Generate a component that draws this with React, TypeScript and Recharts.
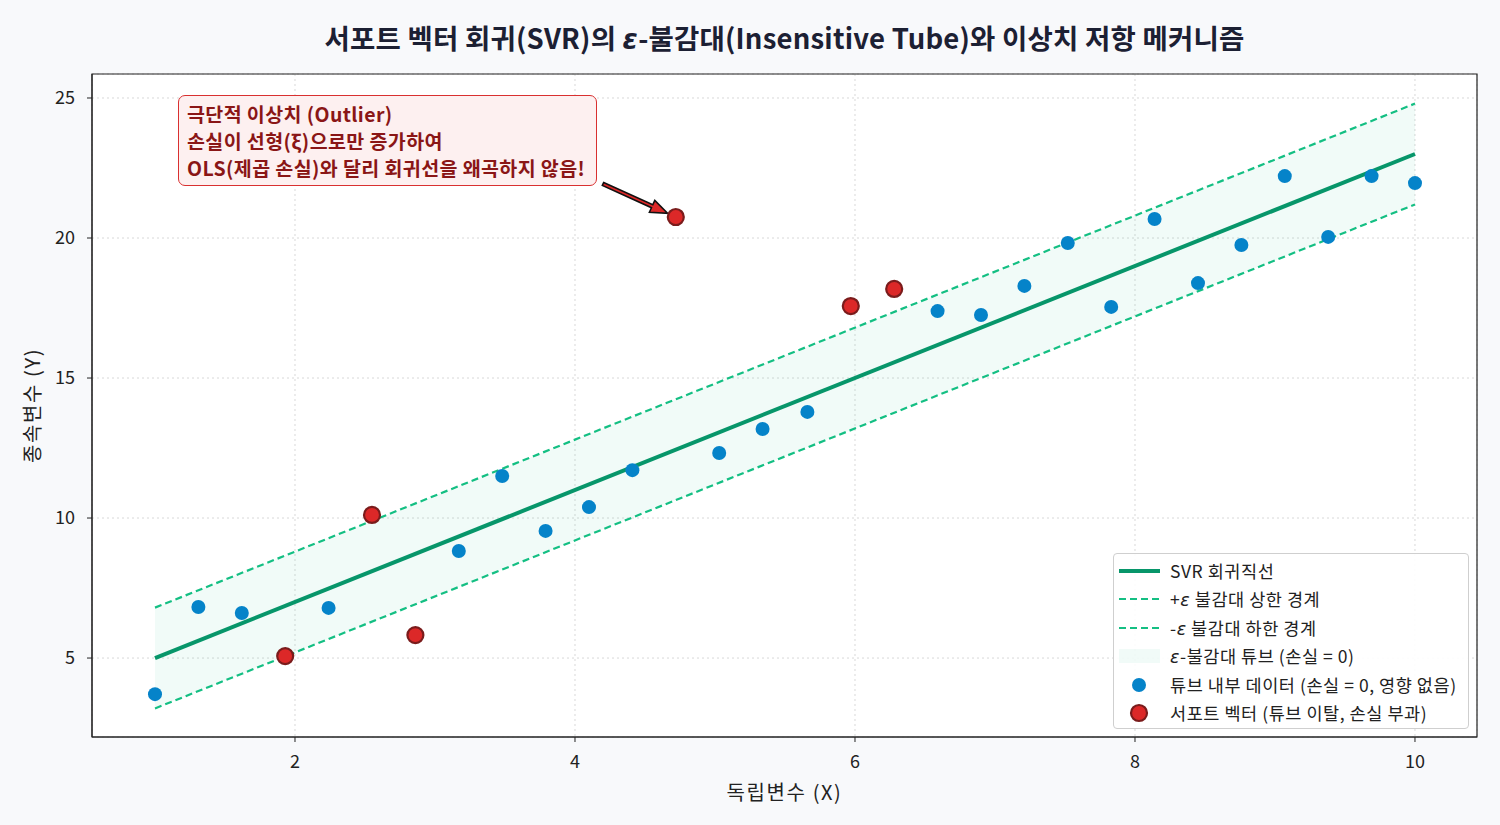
import {
    ComposedChart, Line, Area, Scatter, XAxis, YAxis, CartesianGrid, Legend, ReferenceArea, ReferenceLine
} from "recharts"

// Data
const xValues = [
    1, 1.31, 1.62, 1.93, 2.24, 2.55, 2.86, 3.17, 3.48, 3.79,
    4.1, 4.41, 4.72, 5.03, 5.34, 5.66, 5.97, 6.28, 6.59, 6.9,
    7.21, 7.52, 7.83, 8.14, 8.45, 8.76, 9.07, 9.38, 9.69, 10,
]
const yValues = [
    3.71, 6.82, 6.61, 5.07, 6.79, 10.11, 5.82, 8.82, 11.5, 9.54,
    10.39, 11.71, 20.75, 12.32, 13.18, 13.79, 17.57, 18.18, 17.39, 17.25,
    18.29, 19.82, 17.54, 20.68, 18.39, 19.75, 22.21, 20.04, 22.21, 21.96,
]
const supportFlags = [
    0, 0, 0, 1, 0, 1, 1, 0, 0, 0,
    0, 0, 1, 0, 0, 0, 1, 1, 0, 0,
    0, 0, 0, 0, 0, 0, 0, 0, 0, 0,
]
const fitX = [1, 10]
const fitY = [5, 23]
const upperY = [6.8, 24.8]
const lowerY = [3.2, 21.2]
const xTicks = [2, 4, 6, 8, 10]
const yTicks = [5, 10, 15, 20, 25]
const xDomain = [0.55, 10.443]
const yDomain = [2.18, 25.857]
const arrowFrom = { x: 4.2, y: 21.93 }
const arrowTo = { x: 4.72, y: 20.75 }

const lineData = fitX.map((x, i) => ({
    x,
    fit: fitY[i],
    upper: upperY[i],
    lower: lowerY[i],
    band: [lowerY[i], upperY[i]],
}))
const points = xValues.map((x, i) => ({ x, y: yValues[i], sv: supportFlags[i] === 1 }))
const insidePoints = points.filter(p => !p.sv)
const supportPoints = points.filter(p => p.sv)

const FONT = "'Noto Sans CJK KR', 'Noto Sans', sans-serif"
const BLUE = "#0583c9"
const RED = "#dc2828"
const RED_EDGE = "#7a1c1c"
const GREEN = "#07966a"
const DASH = "#14bf83"

const BlueDot = (p: any) => <circle cx={p.cx} cy={p.cy} r={7} fill={BLUE} />
const RedDot = (p: any) => (
    <circle cx={p.cx} cy={p.cy} r={8} fill={RED} stroke={RED_EDGE} strokeWidth={2.2} />
)

// arrow drawn between two data points, stopping at marker edge
const ArrowShape = (p: any) => {
    const { x1, y1, x2, y2 } = p
    const dx = x2 - x1
    const dy = y2 - y1
    const len = Math.hypot(dx, dy)
    if (!len) return null
    const ux = dx / len
    const uy = dy / len
    const nx = -uy
    const ny = ux
    const L = len - 9
    const hl = 17, hw = 6.5, sw = 1.6
    const pts = [
        [0, -sw], [L - hl, -sw], [L - hl, -hw], [L, 0], [L - hl, hw], [L - hl, sw], [0, sw],
    ].map(([a, b]) => `${x1 + ux * a + nx * b},${y1 + uy * a + ny * b}`).join(" ")
    return <polygon points={pts} fill={RED} stroke="#111" strokeWidth={1.6} />
}

const Eps = () => <i style={{ fontFamily: "'DejaVu Sans', sans-serif" }}>ε</i>

const legendItems = [
    { kind: "line", label: <>SVR 회귀직선</> },
    { kind: "dash", label: <>+<Eps /> 불감대 상한 경계</> },
    { kind: "dash", label: <>-<Eps /> 불감대 하한 경계</> },
    { kind: "band", label: <><Eps />-불감대 튜브 (손실 = 0)</> },
    { kind: "blue", label: <>튜브 내부 데이터 (손실 = 0, 영향 없음)</> },
    { kind: "red", label: <>서포트 벡터 (튜브 이탈, 손실 부과)</> },
]

const LegendBox = () => (
    <div
        style={{
            width: 356,
            height: 176,
            boxSizing: "border-box",
            border: "1px solid #cfcfcf",
            borderRadius: 4,
            background: "rgba(255,255,255,0.9)",
            paddingTop: 2,
            fontFamily: FONT,
            fontSize: 17.5,
            letterSpacing: 0.55,
            color: "#222",
            whiteSpace: "nowrap",
        }}
    >
        {legendItems.map((it, i) => (
            <div key={i} style={{ display: "flex", alignItems: "center", height: 28.5 }}>
                <svg width={56} height={29} style={{ flex: "none" }}>
                    {it.kind === "line" && <line x1={5} x2={46} y1={15} y2={15} stroke={GREEN} strokeWidth={4} />}
                    {it.kind === "dash" && (
                        <line x1={5} x2={46} y1={15} y2={15} stroke={DASH} strokeWidth={2.2} strokeDasharray="7 4" />
                    )}
                    {it.kind === "band" && <rect x={5} y={8} width={41} height={14} fill="#10b981" fillOpacity={0.06} />}
                    {it.kind === "blue" && <circle cx={25} cy={15} r={7} fill={BLUE} />}
                    {it.kind === "red" && <circle cx={25} cy={15} r={8} fill={RED} stroke={RED_EDGE} strokeWidth={2.2} />}
                </svg>
                <span>{it.label}</span>
            </div>
        ))}
    </div>
)

export default function App() {
    return (
        <div
            style={{
                position: "absolute",
                left: 0,
                top: 0,
                width: 1500,
                height: 825,
                background: "#f8f9fb",
                fontFamily: FONT,
            }}
        >
            <div
                style={{
                    position: "absolute",
                    left: 92,
                    width: 1385,
                    top: 17,
                    textAlign: "center",
                    fontSize: 27.5,
                    lineHeight: "40px",
                    fontWeight: 700,
                    letterSpacing: 0.2,
                    color: "#1c2033",
                    whiteSpace: "nowrap",
                }}
            >
                서포트 벡터 회귀(SVR)의 <Eps />-불감대(Insensitive Tube)와 이상치 저항 메커니즘
            </div>
            <ComposedChart
                width={1500}
                height={825}
                margin={{ top: 74, right: 23, left: 22, bottom: 18 }}
                style={{ fontFamily: FONT }}
            >
                <CartesianGrid stroke="#d8d8d8" strokeDasharray="2 3" fill="#fff" fillOpacity={1} />
                <XAxis
                    type="number"
                    dataKey="x"
                    domain={xDomain}
                    ticks={xTicks}
                    allowDataOverflow
                    height={70}
                    tickSize={5}
                    tickMargin={13}
                    stroke="#222"
                    tick={{ fill: "#222", fontSize: 18 }}
                    label={{
                        value: "독립변수 (X)",
                        position: "insideBottom",
                        offset: 7,
                        fill: "#222",
                        fontSize: 20,
                        style: { letterSpacing: 1.6 },
                    }}
                />
                <YAxis
                    type="number"
                    dataKey="y"
                    domain={yDomain}
                    ticks={yTicks}
                    allowDataOverflow
                    width={70}
                    tickSize={5}
                    tickMargin={12}
                    stroke="#222"
                    tick={{ fill: "#222", fontSize: 18 }}
                    label={{
                        value: "종속변수 (Y)",
                        angle: -90,
                        position: "insideLeft",
                        offset: 11,
                        fill: "#222",
                        fontSize: 20,
                        style: { textAnchor: "middle", letterSpacing: 1.6 },
                    }}
                />
                <ReferenceArea
                    x1={xDomain[0]}
                    x2={xDomain[1]}
                    y1={yDomain[0]}
                    y2={yDomain[1]}
                    fill="none"
                    stroke="#222"
                    strokeWidth={1.2}
                    ifOverflow="visible"
                />
                <Area
                    data={lineData}
                    dataKey="band"
                    type="linear"
                    stroke="none"
                    fill="#10b981"
                    fillOpacity={0.06}
                    isAnimationActive={false}
                />
                <Line
                    data={lineData}
                    dataKey="upper"
                    type="linear"
                    stroke={DASH}
                    strokeWidth={2.2}
                    strokeDasharray="7 4"
                    dot={false}
                    activeDot={false}
                    isAnimationActive={false}
                />
                <Line
                    data={lineData}
                    dataKey="lower"
                    type="linear"
                    stroke={DASH}
                    strokeWidth={2.2}
                    strokeDasharray="7 4"
                    dot={false}
                    activeDot={false}
                    isAnimationActive={false}
                />
                <Line
                    data={lineData}
                    dataKey="fit"
                    type="linear"
                    stroke={GREEN}
                    strokeWidth={4}
                    dot={false}
                    activeDot={false}
                    isAnimationActive={false}
                />
                <Scatter data={insidePoints} dataKey="y" shape={BlueDot} isAnimationActive={false} />
                <Scatter data={supportPoints} dataKey="y" shape={RedDot} isAnimationActive={false} />
                <ReferenceLine
                    segment={[arrowFrom, arrowTo]}
                    shape={ArrowShape}
                    ifOverflow="visible"
                />
                <Legend
                    layout="vertical"
                    align="center"
                    verticalAlign="middle"
                    content={() => <LegendBox />}
                    wrapperStyle={{ left: 1113, top: 553, width: 356, height: 176 }}
                />
            </ComposedChart>
            <div
                style={{
                    position: "absolute",
                    left: 178,
                    top: 95,
                    width: 419,
                    height: 91,
                    boxSizing: "border-box",
                    border: "1.5px solid #d93030",
                    borderRadius: 7,
                    background: "#fdf0f0",
                    padding: "4px 0 0 8px",
                    color: "#8a1616",
                    fontWeight: 700,
                    fontSize: 19.5,
                    letterSpacing: 0.4,
                    lineHeight: "27px",
                    whiteSpace: "nowrap",
                }}
            >
                <div>극단적 이상치 (Outlier)</div>
                <div>손실이 선형(ξ)으로만 증가하여</div>
                <div>OLS(제곱 손실)와 달리 회귀선을 왜곡하지 않음!</div>
            </div>
        </div>
    )
}
